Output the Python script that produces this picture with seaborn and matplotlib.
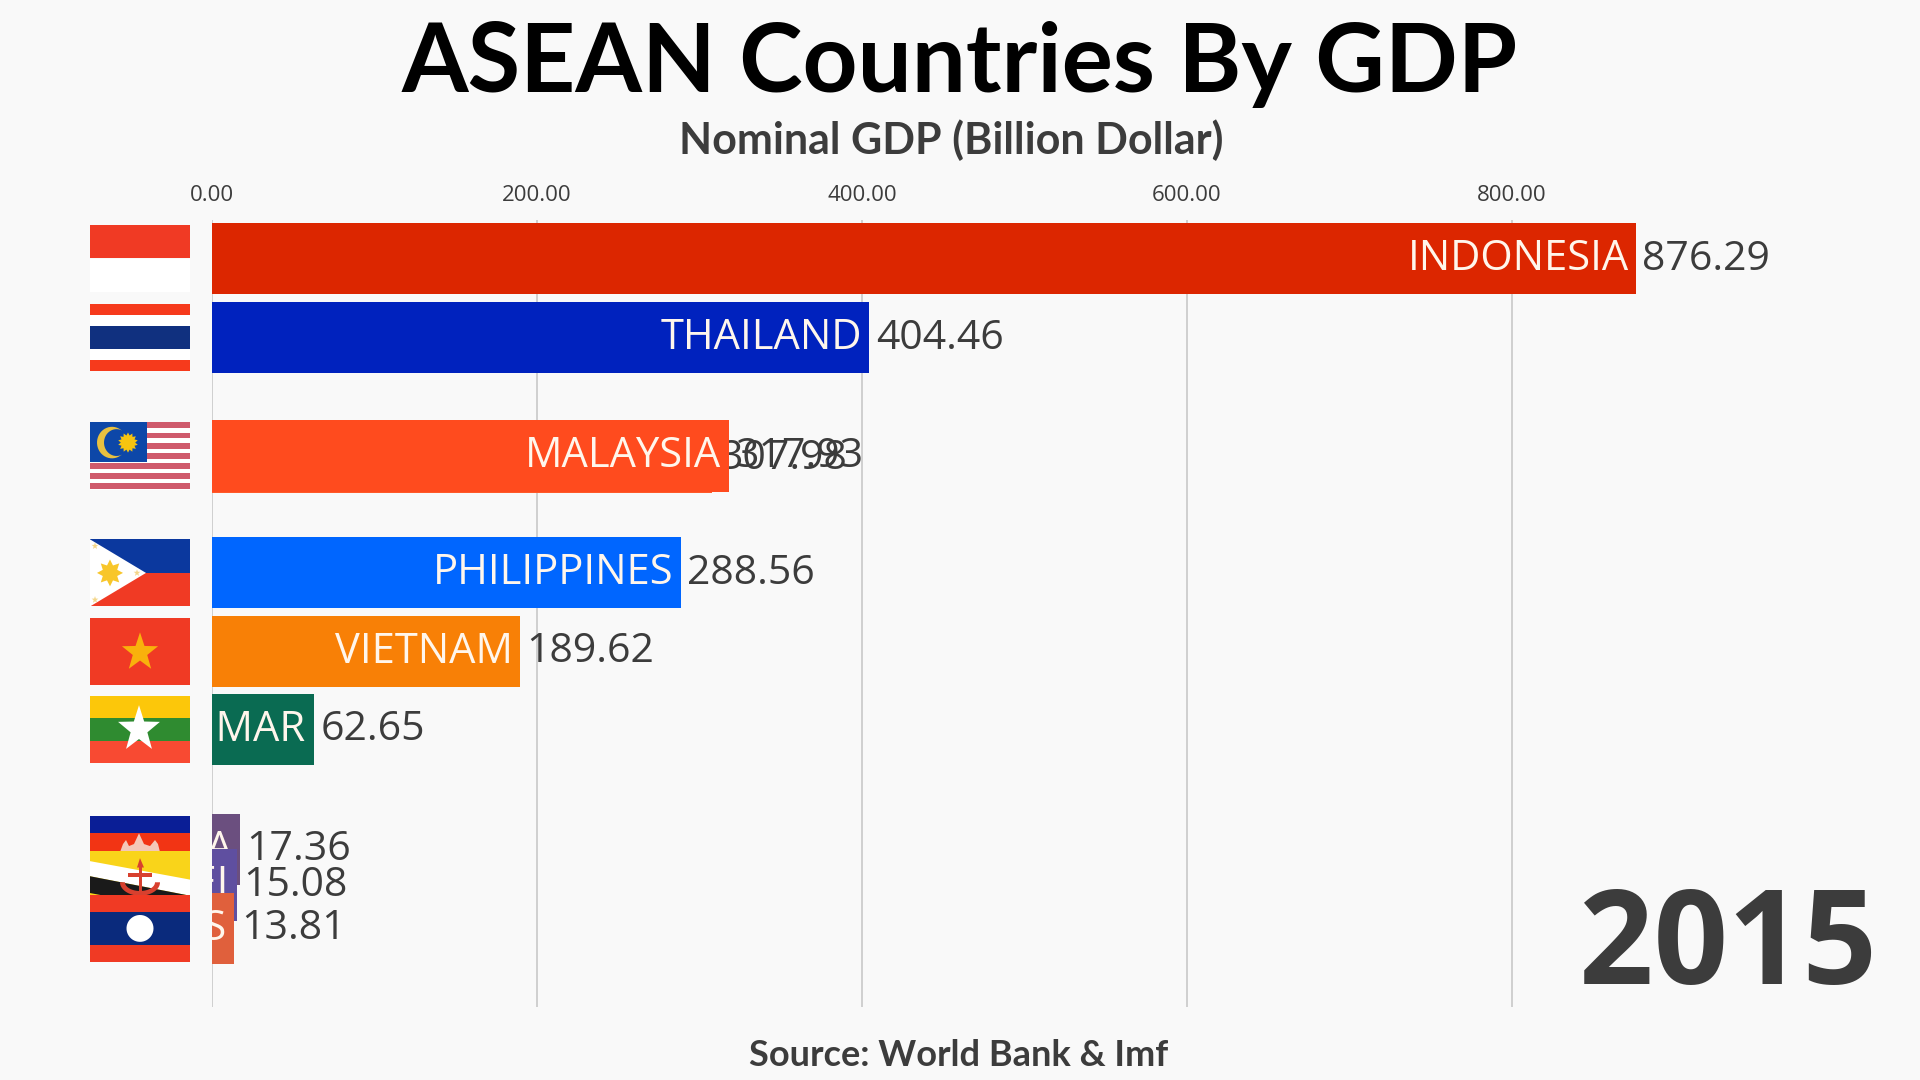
import numpy as np
import pandas as pd
import seaborn as sns
import matplotlib.pyplot as plt
from matplotlib.patches import Polygon, Rectangle
from matplotlib.transforms import Affine2D

countries = ['Singapore', 'Indonesia', 'Thailand', 'Malaysia', 'Philippines', 'Vietnam',
             'Myanmar', 'Cambodia', 'Brunei', 'Laos']
gdp = [307.98, 876.29, 404.46, 317.93, 288.56, 189.62, 62.65, 17.36, 15.08, 13.81]
# animated rank of each bar, halfway values are bars moving between places
rank = [2.52, 0.0, 1.0, 2.5, 3.98, 4.97, 5.96, 7.48, 7.93, 8.48]
bar_colors = ['#FF5A2A', '#DC2600', '#0022BE', '#FF4B1E', '#0066FF', '#F88006',
              '#0A6B52', '#6B4F7F', '#5F4FA0', '#E0603C']
ticks = [0, 200, 400, 600, 800]

BG = '#F9F9F9'
DARK = '#3C3C3C'

sns.set_theme(style='whitegrid', rc={'figure.facecolor': BG, 'axes.facecolor': BG,
                                     'grid.color': '#CCCCCC', 'grid.linewidth': 1.3})
plt.rcParams['font.family'] = ['Open Sans', 'DejaVu Sans']

df = pd.DataFrame({'country': countries, 'gdp': gdp, 'rank': rank, 'color': bar_colors})

fig = plt.figure(figsize=(19.2, 10.8), dpi=100)
ax = fig.add_axes([212 / 1920, 1 - 1007 / 1080, (1920 - 212) / 1920, (1007 - 220) / 1080])

for i, row in df.iterrows():
    sns.barplot(x=[row['gdp']], y=[row['rank']], orient='y', native_scale=True,
                color=row['color'], saturation=1, width=0.9, ax=ax)
    bar = ax.patches[-1]
    bar.set_zorder(10 + 2 * i)
    bar.set_linewidth(0)
    name = ax.text(row['gdp'] - 4.5, row['rank'] + 0.005, row['country'].upper(), ha='right', va='center',
                   color='#FFF6EC', fontsize=30, zorder=11 + 2 * i)
    name.set_clip_on(True)
    name.set_clip_path(bar)
    ax.text(row['gdp'] + 4, row['rank'] + 0.01, f"{row['gdp']:.2f}", ha='left', va='center',
            color=DARK, fontsize=29.5, zorder=11 + 2 * i)

ax.set_xlim(0, (1920 - 212) / 1.625)
ax.set_ylim((1007 - 258.5) / 79, (220 - 258.5) / 79)
ax.set_xticks(ticks)
ax.set_xticklabels([f'{t:.2f}' for t in ticks], fontsize=16, color=DARK)
ax.xaxis.tick_top()
ax.tick_params(axis='x', length=0, pad=10)
ax.set_xlabel('')
ax.set_ylabel('')
ax.set_yticks([])
ax.grid(axis='y', visible=False)
ax.set_axisbelow(True)
for s in ax.spines.values():
    s.set_visible(False)


def star(cx, cy, rx, ry, color, tf, z, points=5, inner=0.4):
    a = np.arange(points * 2) * np.pi / points - np.pi / 2
    r = np.where(np.arange(points * 2) % 2 == 0, 1.0, inner)
    pts = np.c_[cx + rx * r * np.cos(a), cy + ry * r * np.sin(a)]
    ax.add_patch(Polygon(pts, fc=color, ec='none', transform=tf, clip_on=False, zorder=z))


def box(x0, y0, x1, y1, color, tf, z):
    ax.add_patch(Rectangle((x0, y0), x1 - x0, y1 - y0, fc=color, ec='none', transform=tf,
                           clip_on=False, zorder=z))


def poly(pts, color, tf, z):
    ax.add_patch(Polygon(pts, fc=color, ec='none', transform=tf, clip_on=False, zorder=z))


def flag(country, r, z):
    # flag drawn in unit square, 0,0 is its top left corner
    x0, x1 = -122 / 1.625, -22 / 1.625
    h = 0.85
    tf = Affine2D().scale(x1 - x0, h).translate(x0, r - h / 2) + ax.transData
    red = '#F03A24'
    if country == 'Indonesia':
        box(0, 0, 1, 0.5, red, tf, z)
        box(0, 0.5, 1, 1, 'white', tf, z)
    elif country == 'Thailand':
        box(0, 0, 1, 1, 'white', tf, z)
        box(0, 0, 1, 1 / 6, '#F63A1C', tf, z)
        box(0, 5 / 6, 1, 1, '#F63A1C', tf, z)
        box(0, 1 / 3, 1, 2 / 3, '#10307F', tf, z)
    elif country == 'Malaysia':
        box(0, 0, 1, 1, 'white', tf, z)
        for k in range(7):
            box(0, k * 2 / 13.2, 1, k * 2 / 13.2 + 1 / 13.2 + 0.01, '#CF5A6C', tf, z)
        box(0, 0, 0.565, 0.59, '#0D47A8', tf, z)
        moon = np.linspace(np.pi * 0.35, np.pi * 1.65, 30)
        outer = np.c_[0.22 + 0.15 * np.cos(moon), 0.3 + 0.235 * np.sin(moon)]
        inner = np.c_[0.265 + 0.125 * np.cos(moon[::-1]), 0.3 + 0.2 * np.sin(moon[::-1])]
        poly(np.r_[outer, inner], '#E8C040', tf, z + 0.1)
        star(0.38, 0.3, 0.1, 0.15, '#F7C410', tf, z + 0.1, points=14, inner=0.72)
    elif country == 'Philippines':
        box(0, 0, 1, 0.5, '#0B389E', tf, z)
        box(0, 0.5, 1, 1, red, tf, z)
        poly([(0, 0), (0.56, 0.5), (0, 1)], 'white', tf, z + 0.1)
        star(0.2, 0.5, 0.13, 0.2, '#F8C62A', tf, z + 0.2, points=8, inner=0.6)
        for sx, sy in [(0.05, 0.1), (0.05, 0.9), (0.47, 0.5)]:
            star(sx, sy, 0.035, 0.055, '#F4D68A', tf, z + 0.2)
    elif country == 'Vietnam':
        box(0, 0, 1, 1, red, tf, z)
        star(0.5, 0.52, 0.19, 0.3, '#F9B10C', tf, z + 0.1)
    elif country == 'Myanmar':
        box(0, 0, 1, 1 / 3, '#FCC70A', tf, z)
        box(0, 1 / 3, 1, 2 / 3, '#2F8B30', tf, z)
        box(0, 2 / 3, 1, 1, '#F84A32', tf, z)
        star(0.49, 0.5, 0.22, 0.36, 'white', tf, z + 0.1)
    elif country == 'Cambodia':
        box(0, 0, 1, 0.25, '#0A1E96', tf, z)
        box(0, 0.25, 1, 0.75, '#F23414', tf, z)
        box(0, 0.75, 1, 1, '#0A1E96', tf, z)
        poly([(0.3, 0.54), (0.33, 0.42), (0.36, 0.36), (0.39, 0.45), (0.44, 0.42), (0.49, 0.26),
              (0.54, 0.42), (0.6, 0.45), (0.65, 0.36), (0.68, 0.42), (0.7, 0.54)],
             '#F4C8B8', tf, z + 0.1)
    elif country == 'Brunei':
        box(0, 0, 1, 1, '#F9D41A', tf, z)
        poly([(0, 0.145), (1, 0.42), (1, 0.66), (0, 0.37)], 'white', tf, z + 0.1)
        poly([(0, 0.37), (1, 0.66), (1, 0.9), (0, 0.62)], '#1A1A1A', tf, z + 0.2)
        # crest in the middle
        box(0.485, 0.22, 0.515, 0.6, '#D8402E', tf, z + 0.3)
        poly([(0.47, 0.24), (0.5, 0.1), (0.54, 0.24)], '#D8402E', tf, z + 0.3)
        box(0.38, 0.32, 0.62, 0.38, '#D8402E', tf, z + 0.3)
        arc = np.linspace(0, np.pi, 30)
        poly(np.r_[np.c_[0.5 + 0.2 * np.cos(arc), 0.46 + 0.2 * np.sin(arc)],
                   np.c_[0.5 + 0.15 * np.cos(arc[::-1]), 0.46 + 0.13 * np.sin(arc[::-1])]],
             '#D8402E', tf, z + 0.3)
    elif country == 'Laos':
        box(0, 0, 1, 1, '#F03A24', tf, z)
        box(0, 0.25, 1, 0.75, '#0A2A7C', tf, z)
        poly(np.c_[0.5 + 0.135 * np.cos(np.linspace(0, 2 * np.pi, 48)),
                   0.5 + 0.2 * np.sin(np.linspace(0, 2 * np.pi, 48))], 'white', tf, z + 0.1)


for i, row in df.iterrows():
    if row['country'] != 'Singapore':
        flag(row['country'], row['rank'], 5 + i * 0.5)

fig.text(960 / 1920, 1 - 65 / 1080, 'ASEAN Countries By GDP', ha='center', va='center',
         fontsize=69, fontweight='bold', color='black', family=['Lato', 'DejaVu Sans'])
fig.text(951 / 1920, 1 - 140 / 1080, 'Nominal GDP (Billion Dollar)', ha='center', va='center',
         fontsize=31, fontweight='bold', color=DARK, family=['Lato', 'DejaVu Sans'])
fig.text(1877 / 1920, 1 - 950 / 1080, '2015', ha='right', va='center',
         fontsize=94, fontweight='bold', color=DARK)
fig.text(959 / 1920, 1 - 1055 / 1080, 'Source: World Bank & Imf', ha='center', va='center',
         fontsize=26, fontweight='bold', color=DARK, family=['Lato', 'DejaVu Sans'])

fig.savefig('out.png', dpi=100, facecolor=BG)
